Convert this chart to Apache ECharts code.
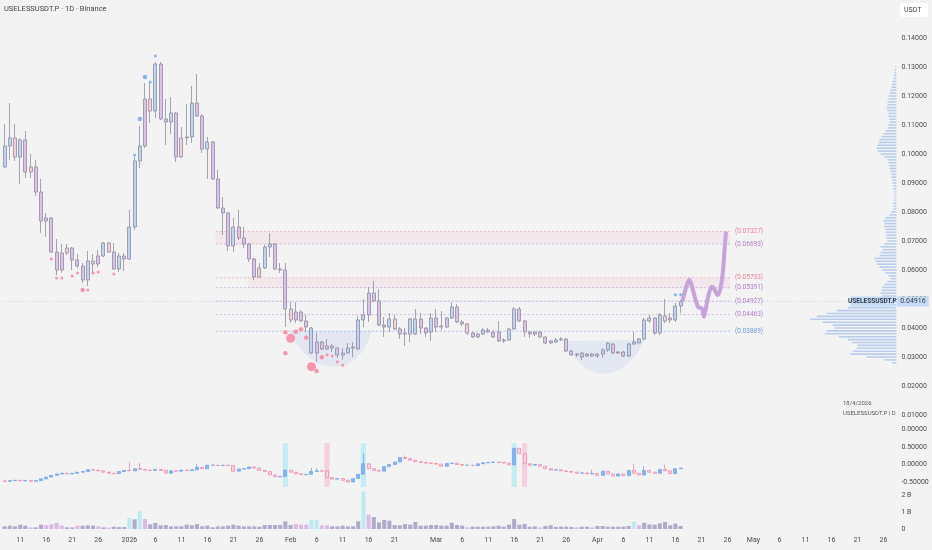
<!DOCTYPE html>
<html>
<head>
<meta charset="utf-8">
<script src="https://cdn.jsdelivr.net/npm/echarts@6/dist/echarts.min.js"></script>
<style>
  html, body { margin: 0; padding: 0; background: #f3f3f3; }
  #chart { width: 932px; height: 550px; }
</style>
</head>
<body>
<div id="chart"></div>
<script>
// Daily categories, Dec 8 2025 onwards (axis runs out to late May)
const firstDay = Date.UTC(2025, 11, 8);
const dayCount = 172;
const dates = [];
for (let k = 0; k < dayCount; k++) dates.push(new Date(firstDay + k * 864e5).toISOString().slice(0, 10));

// Daily candles [open, close, low, high]
const candles = [
  [0.09552,0.10276,0.09517,0.11034],[0.10276,0.10552,0.09793,0.11759],[0.10552,0.09897,0.09759,0.11034],
  [0.09897,0.10483,0.08966,0.10552],[0.10483,0.09379,0.09172,0.10793],[0.09379,0.09552,0.09172,0.10000],
  [0.09552,0.08690,0.08552,0.09793],[0.08690,0.07690,0.07276,0.09138],[0.07690,0.07793,0.07138,0.07966],
  [0.07793,0.06621,0.06586,0.07828],[0.06621,0.06000,0.05828,0.07069],[0.06000,0.06586,0.05897,0.06897],
  [0.06586,0.06759,0.06517,0.06897],[0.06759,0.06345,0.06000,0.06793],[0.06345,0.06138,0.06069,0.06552],
  [0.06138,0.05655,0.05552,0.06241],[0.05655,0.06310,0.05448,0.06655],[0.06310,0.06207,0.05897,0.06552],
  [0.06207,0.06483,0.06103,0.06690],[0.06483,0.06931,0.06448,0.06966],[0.06931,0.06621,0.06586,0.06966],
  [0.06621,0.06034,0.06000,0.06931],[0.06034,0.06483,0.05931,0.06586],[0.06483,0.06379,0.05966,0.06586],
  [0.06379,0.07483,0.06345,0.08069],[0.07483,0.09759,0.07379,0.09897],[0.09759,0.10276,0.09517,0.10966],
  [0.10276,0.11897,0.10207,0.12448],[0.11897,0.11483,0.11069,0.12448],[0.11483,0.13103,0.11241,0.13172],
  [0.13103,0.11207,0.11172,0.13172],[0.11207,0.11103,0.10310,0.11897],[0.11103,0.11414,0.10690,0.11966],
  [0.11414,0.09897,0.09724,0.11448],[0.09897,0.10552,0.09862,0.10931],[0.10552,0.10586,0.10310,0.11724],
  [0.10586,0.11759,0.10379,0.12345],[0.11759,0.11310,0.11276,0.12759],[0.11310,0.10172,0.10034,0.11379],
  [0.10172,0.10414,0.09138,0.10586],[0.10414,0.09138,0.09103,0.10448],[0.09138,0.08138,0.08103,0.09448],
  [0.08138,0.07966,0.07207,0.08517],[0.07966,0.06828,0.06655,0.08000],[0.06828,0.07483,0.06621,0.07793],
  [0.07483,0.07103,0.07034,0.08069],[0.07103,0.06897,0.06759,0.07483],[0.06897,0.06379,0.06276,0.06931],
  [0.06379,0.05759,0.05655,0.06414],[0.05759,0.06069,0.05724,0.06241],[0.06069,0.06793,0.06034,0.06862],
  [0.06793,0.06897,0.06448,0.07276],[0.06897,0.06034,0.06000,0.06931],[0.06034,0.06000,0.05897,0.06241],
  [0.06000,0.04655,0.04034,0.06241],[0.04655,0.04276,0.04172,0.04897],[0.04276,0.04552,0.04172,0.04897],
  [0.04552,0.04241,0.04207,0.04621],[0.04241,0.04034,0.03862,0.04448],[0.04000,0.03138,0.03103,0.04034],
  [0.03138,0.03517,0.02828,0.03828],[0.03517,0.03276,0.03241,0.03552],[0.03276,0.03379,0.03241,0.03621],
  [0.03379,0.03310,0.03172,0.03448],[0.03310,0.03069,0.02966,0.03345],[0.03069,0.03138,0.02897,0.03310],
  [0.03138,0.03310,0.03103,0.03483],[0.03310,0.03345,0.03000,0.03517],[0.03276,0.04276,0.03241,0.04414],
  [0.04276,0.04448,0.04034,0.05000],[0.04448,0.05207,0.04207,0.05414],[0.05207,0.04931,0.04897,0.05621],
  [0.04931,0.04103,0.04069,0.05345],[0.04103,0.04034,0.03690,0.04379],[0.04034,0.04310,0.03862,0.04517],
  [0.04310,0.03966,0.03931,0.04448],[0.03966,0.03793,0.03621,0.04034],[0.03793,0.03828,0.03379,0.04000],
  [0.03793,0.04310,0.03517,0.04345],[0.04310,0.03793,0.03759,0.04655],[0.04000,0.04310,0.03793,0.04517],
  [0.04000,0.03828,0.03690,0.04034],[0.03862,0.04345,0.03552,0.04517],[0.04345,0.04034,0.03862,0.04655],
  [0.04034,0.04069,0.03931,0.04586],[0.04034,0.04345,0.04000,0.04379],[0.04345,0.04724,0.04310,0.04897],
  [0.04724,0.04207,0.04172,0.04828],[0.04207,0.04138,0.04069,0.04276],[0.04138,0.03828,0.03759,0.04172],
  [0.03828,0.03690,0.03655,0.03862],[0.03690,0.03793,0.03655,0.03828],[0.03793,0.03931,0.03759,0.04000],
  [0.03931,0.03862,0.03828,0.04000],[0.03862,0.03690,0.03655,0.03931],[0.03862,0.03552,0.03517,0.04241],
  [0.03552,0.03586,0.03483,0.03655],[0.03586,0.03966,0.03552,0.04000],[0.03966,0.04655,0.03931,0.04724],
  [0.04655,0.04241,0.04207,0.04724],[0.04241,0.03862,0.03690,0.04276],[0.03862,0.03793,0.03655,0.03897],
  [0.03793,0.03862,0.03724,0.03897],[0.03862,0.03690,0.03655,0.03897],[0.03690,0.03483,0.03448,0.03700],
  [0.03483,0.03552,0.03448,0.03586],[0.03517,0.03586,0.03483,0.03655],[0.03586,0.03621,0.03552,0.03690],
  [0.03621,0.03207,0.03172,0.03655],[0.03207,0.03069,0.03034,0.03241],[0.03069,0.03103,0.03000,0.03138],
  [0.03000,0.03138,0.02897,0.03172],[0.03103,0.03034,0.03000,0.03138],[0.03034,0.03103,0.03000,0.03138],
  [0.03103,0.03034,0.02966,0.03138],[0.03103,0.03241,0.02966,0.03310],[0.03241,0.03483,0.03172,0.03517],
  [0.03448,0.03138,0.03103,0.03483],[0.03172,0.03138,0.03103,0.03207],[0.03172,0.03034,0.03000,0.03207],
  [0.03034,0.03448,0.03000,0.03483],[0.03448,0.03517,0.03414,0.03862],[0.03483,0.03621,0.03483,0.03655],
  [0.03621,0.04276,0.03586,0.04345],[0.04241,0.04345,0.04172,0.04448],[0.04345,0.03828,0.03759,0.04379],
  [0.03828,0.04448,0.03759,0.04517],[0.04414,0.04241,0.04172,0.05000],[0.04276,0.04345,0.04172,0.04517],
  [0.04276,0.04759,0.04207,0.04862],[0.04759,0.04916,0.04517,0.04966]
];
// trend state per candle from the colouring indicator: b = bull, v = bear, p = neutral
const trendState = ('bbpbvpvvvv' + 'vvpvvvbpvb' + 'pvbvbbbvpb' + 'vvbvpvbvvb' + 'vvvvbvvvvp' +
  'bbvvvpvvvb' + 'vvvvvbbbbb' + 'vvvvbpvvbb' + 'vvbvvvbvvp' + 'vvbvvvvbbv' +
  'vvvvvvbbvv' + 'vbvvvbbvvv' + 'bbbbbvbpvbb').split('');

// Signal dots [day, price, strength]
const bullDots = [[25,0.09966,1],[26,0.11207,2],[27,0.12655,2],[28,0.12483,1],[29,0.13379,1],[129,0.05148,1],[130,0.05148,1]];
const bearDots = [[9,0.06379,1],[10,0.05724,1],[11,0.05724,1],[13,0.05793,1],[14,0.05897,1],[15,0.05310,2],
  [16,0.05310,1],[17,0.05897,1],[18,0.05931,1],[21,0.05862,1],
  [54,0.03852,2],[54,0.03128,2],[55,0.03645,3],[56,0.03872,2],[57,0.03955,2],[58,0.03666,2],[59,0.02666,3],
  [60,0.02517,2],[61,0.02990,2],[62,0.03079,1],[63,0.03034,1],[64,0.02838,1],[65,0.02714,1]];

// Horizontal levels and zones
const levelPrices = [0.07327, 0.06897, 0.05733, 0.05391, 0.04927, 0.04463, 0.03889];
const levelTexts = ['(0.07327)', '(0.06693)', '(0.05733)', '(0.05391)', '(0.04927)', '(0.04463)', '(0.03889)'];
const levelSide = ['r', 'm', 'r', 'm', 'm', 'm', 's'];
const levelFrom = 40.6, levelTo = 139.5;
const zones = [[40.6, 139.5, 0.07327, 0.06897], [46.8, 139.5, 0.05733, 0.05391]];

// Rounded-bottom drawings [day, price]
const febBowl = [[54.9,0.03897],[56.0,0.03483],[57.4,0.03172],[59.1,0.02897],[61.0,0.02724],[63.2,0.02655],
  [65.3,0.02690],[67.2,0.02897],[68.8,0.03172],[69.9,0.03517],[70.7,0.03897]];
const aprBowl = [[107.4,0.03552],[108.7,0.03172],[110.3,0.02828],[112.2,0.02552],[114.5,0.02414],[116.8,0.02448],
  [118.9,0.02621],[120.6,0.02897],[121.9,0.03207],[123.2,0.03586]];

// Projected path
const pathDays = [130.4,131.2,131.7,132.1,132.8,133.4,134.1,134.5,134.8,135.3,136.0,136.4,137.1,137.6,138.1,138.4,138.7];
const pathPrices = [0.04966,0.05483,0.05655,0.05483,0.05024,0.04714,0.04679,0.04390,0.04621,0.05079,0.05424,
  0.05369,0.05138,0.05310,0.05886,0.06576,0.07266];

// Volume profile, bins of 0.001 from 0.028
const profileLow = 0.028, profileStep = 0.001;
const profileVolume = [40,120,300,460,440,400,390,450,490,580,720,700,
  620,640,740,870,800,700,600,490,350,200,
  120,140,160,150,140,120,90,60,80,110,
  140,170,200,210,220,170,160,140,160,120,
  90,100,100,110,110,120,120,130,110,70,
  50,30,30,30,20,20,20,20,30,30,
  40,40,50,50,60,70,70,80,90,120,
  160,190,200,190,180,170,150,130,110,90,
  80,70,70,80,80,90,100,90,90,80,
  80,70,60,50,45,40,30,25,20,15,10];

// Oscillator closes
const oscClose = [-0.48,-0.46,-0.45,-0.47,-0.46,-0.48,-0.46,-0.41,-0.36,-0.31,
  -0.27,-0.25,-0.27,-0.25,-0.22,-0.20,-0.15,-0.16,-0.18,-0.22,
  -0.25,-0.26,-0.20,-0.17,-0.18,-0.12,-0.14,-0.16,-0.17,-0.14,
  -0.17,-0.25,-0.18,-0.19,-0.16,-0.17,-0.15,-0.08,-0.12,-0.02,
  -0.02,-0.03,-0.02,-0.03,-0.19,-0.13,-0.12,-0.07,-0.10,-0.17,
  -0.20,-0.30,-0.35,-0.34,-0.16,-0.22,-0.27,-0.29,-0.28,-0.20,
  -0.18,-0.19,-0.37,-0.42,-0.40,-0.45,-0.50,-0.40,-0.28,0.02,
  -0.12,-0.17,-0.19,-0.06,0.00,0.07,0.20,0.17,0.12,0.08,
  0.06,0.04,0.03,0.01,-0.05,0.03,0.04,0.00,-0.02,-0.02,
  -0.03,0.02,0.05,0.06,0.07,0.06,0.04,-0.01,0.46,0.31,
  0.02,-0.02,0.00,-0.05,-0.12,-0.16,-0.15,-0.18,-0.20,-0.22,
  -0.25,-0.24,-0.27,-0.26,-0.31,-0.19,-0.27,-0.33,-0.27,-0.32,
  -0.17,-0.25,-0.30,-0.17,-0.22,-0.25,-0.14,-0.18,-0.26,-0.12,-0.10];
const oscWickDays = [24, 26, 37, 59, 60, 69, 77, 113, 121, 123, 127];
const oscWickHighs = [0.07, 0.05, 0.02, -0.1, -0.1, 0.31, 0.26, -0.15, 0.02, -0.05, 0.0];
const flagUpDays = [54, 69, 98];
const flagDownDays = [62, 100];

// Volume in millions
const volume = [157,196,157,255,196,98,98,255,216,274,353,196,98,98,196,196,216,196,157,98,
  78,137,118,118,667,569,1039,588,274,353,216,235,157,157,157,255,216,294,157,196,
  98,157,157,196,255,196,157,157,157,137,235,235,235,235,451,235,294,255,255,529,
  529,216,216,157,157,196,157,157,451,2215,843,706,392,529,490,235,216,294,255,412,
  196,196,235,235,196,196,372,235,196,98,137,137,137,137,157,196,137,255,588,255,
  294,137,157,98,176,216,118,137,137,118,98,137,137,98,176,176,137,137,137,137,
  176,431,216,372,274,255,333,412,216,314,176];
const volPinkDays = [5, 8, 9, 10, 11, 14, 18, 20, 27, 56, 57, 58, 61, 62, 70, 89, 103, 110, 113, 122];
const volCyanDays = [24, 26, 59, 60, 69, 121];

const FONT = 'Roboto';
const INK = '#4a4a4a';
const bodyFill = { b: '#bcd5f4', v: '#dcc1e8', p: '#f4d1d9' };
const candleEdge = '#8f8c9e';
const sideLine = { r: 'rgba(238,150,172,0.6)', m: 'rgba(178,140,214,0.55)', s: 'rgba(128,168,230,0.6)' };
const sideInk = { r: '#ee7f98', m: '#b27ccb', s: '#6b9de0' };
const dotSize = [0, 3, 4.5, 9];
const lastPrice = candles[candles.length - 1][1];

const monthNames = ['Jan','Feb','Mar','Apr','May','Jun','Jul','Aug','Sep','Oct','Nov','Dec'];
function showDate(value) {
  const y = +value.slice(0, 4), m = +value.slice(5, 7), d = +value.slice(8, 10);
  const monthLen = new Date(Date.UTC(y, m, 0)).getUTCDate();
  if (d === 1) return true;
  return [6, 11, 16, 21, 26].includes(d) && monthLen - d >= 4;
}
function dateText(value) {
  const m = +value.slice(5, 7), d = +value.slice(8, 10);
  if (d === 1) return m === 1 ? value.slice(0, 4) : monthNames[m - 1];
  return String(d);
}

// Oscillator candles: body runs from the previous close to this close
const oscCandles = oscClose.map((c, k) => {
  const o = k === 0 ? c + 0.01 : oscClose[k - 1];
  const w = oscWickDays.indexOf(k);
  const hi = w >= 0 ? Math.max(o, c, oscWickHighs[w]) : Math.max(o, c);
  return [o, c, Math.min(o, c), hi];
});

const chart = echarts.init(document.getElementById('chart'));

const gridBox = { left: 2, right: 35.6, containLabel: false, outerBoundsMode: 'none' };
const hiddenCat = (gridIndex) => ({ type: 'category', gridIndex, data: dates, boundaryGap: true, show: false });

const option = {
  animation: false,
  backgroundColor: '#f3f3f3',
  textStyle: { fontFamily: FONT },
  grid: [
    Object.assign({ top: -20, height: 464 }, gridBox),
    Object.assign({ top: 429.5, height: 70 }, gridBox),
    Object.assign({ top: 490, height: 39 }, gridBox)
  ],
  xAxis: [
    hiddenCat(0),
    { type: 'value', gridIndex: 0, min: -0.5, max: dayCount - 0.5, show: false },
    { type: 'value', gridIndex: 0, min: 0, max: 9000, inverse: true, show: false },
    hiddenCat(1),
    {
      type: 'category', gridIndex: 2, data: dates, boundaryGap: true,
      axisLine: { show: false }, axisTick: { show: false },
      axisLabel: {
        interval: (idx, val) => showDate(val), formatter: dateText,
        margin: 8, fontSize: 7, color: INK, fontFamily: FONT
      }
    }
  ],
  yAxis: [
    {
      type: 'value', gridIndex: 0, position: 'right', min: 0, max: 0.16, interval: 0.01,
      axisLine: { show: false }, axisTick: { show: false }, splitLine: { show: false },
      axisLabel: { margin: 5, fontSize: 7, color: INK, fontFamily: FONT,
        formatter: v => (v < 0.005 || v > 0.145) ? '' : v.toFixed(5) }
    },
    {
      type: 'value', gridIndex: 1, position: 'right', min: -1, max: 1, interval: 0.5,
      axisLine: { show: false }, axisTick: { show: false }, splitLine: { show: false },
      axisLabel: { margin: 5, fontSize: 7, color: INK, fontFamily: FONT,
        formatter: v => v <= -1 ? '' : v >= 1 ? '0.00000' : v.toFixed(5) }
    },
    {
      type: 'value', gridIndex: 2, position: 'right', min: 0, max: 2294, interval: 1000,
      axisLine: { show: false }, axisTick: { show: false }, splitLine: { show: false },
      axisLabel: { margin: 5, fontSize: 7, color: INK, fontFamily: FONT,
        formatter: v => v === 0 ? '0' : (v / 1000) + ' B' }
    }
  ],
  graphic: [
    { type: 'text', left: 4, top: 5, style: { text: 'USELESSUSDT.P · 1D · Binance', fontSize: 7.5, fill: '#444', fontFamily: FONT } },
    { type: 'rect', left: 900, top: 3, shape: { width: 28, height: 14, r: 2 }, style: { fill: '#ffffff' } },
    { type: 'text', left: 904, top: 6.5, style: { text: 'USDT', fontSize: 7, fill: '#444', fontFamily: FONT } },
    { type: 'text', left: 843, top: 400, style: { text: '18/4/2026', fontSize: 6, fill: '#555', fontFamily: FONT } },
    { type: 'text', left: 843, top: 410, style: { text: 'USELESSUSDT.P | D', fontSize: 6, fill: '#555', fontFamily: FONT } }
  ],
  series: [
    // rounded-bottom shading
    {
      type: 'custom', xAxisIndex: 1, yAxisIndex: 0, z: 1, silent: true,
      data: [0, 1],
      renderItem: (params, api) => {
        const pts = (params.dataIndex === 0 ? febBowl : aprBowl).map(p => api.coord(p));
        return { type: 'polygon', shape: { points: pts }, style: { fill: 'rgba(200,214,238,0.38)' } };
      }
    },
    // zones
    {
      type: 'custom', xAxisIndex: 1, yAxisIndex: 0, z: 1, silent: true,
      data: zones,
      renderItem: (params, api) => {
        const a = api.coord([api.value(0), api.value(2)]);
        const b = api.coord([api.value(1), api.value(3)]);
        return { type: 'rect', shape: { x: a[0], y: a[1], width: b[0] - a[0], height: b[1] - a[1] },
          style: { fill: 'rgba(240,196,208,0.25)' } };
      }
    },
    // volume profile
    {
      type: 'custom', xAxisIndex: 2, yAxisIndex: 0, z: 1, silent: true,
      data: profileVolume.map((v, k) => [v, profileLow + k * profileStep]),
      renderItem: (params, api) => {
        const a = api.coord([api.value(0), api.value(1)]);
        const b = api.coord([0, api.value(1)]);
        return { type: 'rect', shape: { x: a[0], y: a[1] - 0.8, width: b[0] - a[0], height: 1.6 },
          style: { fill: 'rgba(128,170,232,0.5)' } };
      }
    },
    // level lines with labels
    {
      type: 'custom', xAxisIndex: 1, yAxisIndex: 0, z: 2, silent: true,
      data: levelPrices.map((p, k) => [levelFrom, levelTo, p, k]),
      renderItem: (params, api) => {
        const k = api.value(3);
        const a = api.coord([api.value(0), api.value(2)]);
        const b = api.coord([api.value(1), api.value(2)]);
        return { type: 'group', children: [
          { type: 'line', shape: { x1: a[0], y1: a[1], x2: b[0], y2: b[1] },
            style: { stroke: sideLine[levelSide[k]], lineWidth: 1, lineDash: [2, 2] } },
          { type: 'text', x: b[0] + 5, y: b[1],
            style: { text: levelTexts[k], fill: sideInk[levelSide[k]], fontSize: 6.5, fontFamily: FONT, verticalAlign: 'middle' } }
        ] };
      }
    },
    // last price line and tags
    {
      type: 'custom', xAxisIndex: 1, yAxisIndex: 0, z: 6, silent: true, clip: false,
      data: [[dayCount - 0.5, lastPrice]],
      renderItem: (params, api) => {
        const e = api.coord([api.value(0), api.value(1)]);
        const s = api.coord([-0.5, api.value(1)]);
        return { type: 'group', children: [
          { type: 'line', shape: { x1: s[0], y1: s[1], x2: e[0], y2: e[1] },
            style: { stroke: 'rgba(150,185,235,0.55)', lineWidth: 1, lineDash: [1, 2] } },
          { type: 'rect', shape: { x: e[0] - 46, y: e[1] - 5, width: 44, height: 10 }, style: { fill: '#c6dbf5' } },
          { type: 'text', x: e[0] - 24, y: e[1], style: { text: 'USELESSUSDT.P', fill: '#2f3a4a', fontSize: 6.5,
            fontWeight: 'bold', fontFamily: FONT, align: 'center', verticalAlign: 'middle' } },
          { type: 'rect', shape: { x: e[0] + 0.5, y: e[1] - 5, width: 32, height: 10 }, style: { fill: '#c6dbf5' } },
          { type: 'text', x: e[0] + 16.5, y: e[1], style: { text: lastPrice.toFixed(5), fill: '#2f3a4a', fontSize: 7,
            fontFamily: FONT, align: 'center', verticalAlign: 'middle' } }
        ] };
      }
    },
    // price candles
    {
      type: 'candlestick', xAxisIndex: 0, yAxisIndex: 0, z: 3, barWidth: '70%',
      data: candles.map((c, k) => ({ value: c, itemStyle: {
        color: bodyFill[trendState[k]], color0: bodyFill[trendState[k]],
        borderColor: candleEdge, borderColor0: candleEdge, borderWidth: 0.8 } }))
    },
    // signal dots
    {
      type: 'scatter', xAxisIndex: 1, yAxisIndex: 0, z: 4,
      data: bullDots, symbolSize: v => dotSize[v[2]], itemStyle: { color: '#7fb1f1', opacity: 0.95 }
    },
    {
      type: 'scatter', xAxisIndex: 1, yAxisIndex: 0, z: 4,
      data: bearDots, symbolSize: v => dotSize[v[2]], itemStyle: { color: '#f590aa', opacity: 0.95 }
    },
    // projected path
    {
      type: 'line', xAxisIndex: 1, yAxisIndex: 0, z: 5, smooth: 0.3, showSymbol: false,
      data: pathDays.map((d, k) => [d, pathPrices[k]]),
      lineStyle: { color: '#c7a3dc', width: 4, cap: 'round', join: 'round' }
    },
    // oscillator highlight bands
    {
      type: 'custom', xAxisIndex: 3, yAxisIndex: 1, z: 1, silent: true,
      data: flagUpDays.map(d => [d, 0]).concat(flagDownDays.map(d => [d, 1])),
      renderItem: (params, api) => {
        const top = api.coord([api.value(0), 0.61]);
        const bot = api.coord([api.value(0), -0.64]);
        const w = api.size([1, 0])[0];
        return { type: 'rect', shape: { x: top[0] - w / 2, y: top[1], width: w, height: bot[1] - top[1] },
          style: { fill: api.value(1) === 0 ? 'rgba(190,236,242,0.9)' : 'rgba(246,204,218,0.9)' } };
      }
    },
    // oscillator candles
    {
      type: 'candlestick', xAxisIndex: 3, yAxisIndex: 1, z: 3, barWidth: '70%',
      data: oscCandles,
      itemStyle: { color: '#86b6f2', color0: '#fbd3de', borderColor: '#6fa7ef', borderColor0: '#f08cab', borderWidth: 0.8 }
    },
    // volume
    {
      type: 'bar', xAxisIndex: 4, yAxisIndex: 2, barWidth: '78%',
      data: volume.map((v, k) => ({ value: v, itemStyle: {
        color: volPinkDays.includes(k) ? '#ddbae3' : volCyanDays.includes(k) ? '#bdeaf0' : '#adabc9' } }))
    }
  ]
};

chart.setOption(option);
</script>
</body>
</html>
